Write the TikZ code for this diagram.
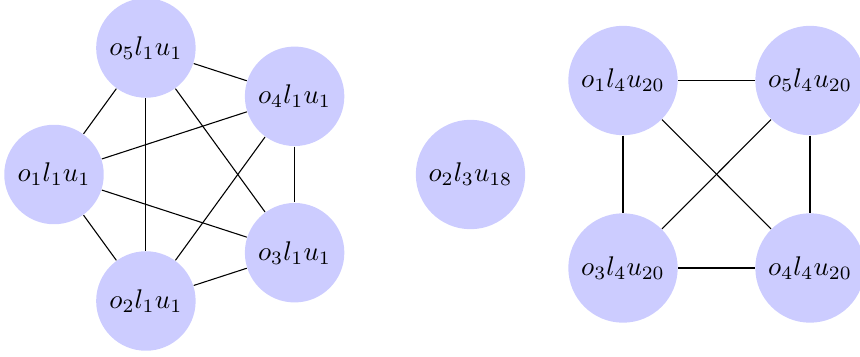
\documentclass[tikz,border=0pt]{standalone}
\begin{document}
\begin{tikzpicture}[x=0.37037pt,y=-0.37037pt,
  vtx/.style={circle,fill=blue!20,inner sep=0.3333em},
  edg/.style={draw=black,line width=0.4pt}]
\useasboundingbox (0,0) rectangle (860,356);
% left K5
\node[vtx] (a1) at (54,174.5) {$o_1l_1u_1$};
\node[vtx] (a5) at (145.9,48) {$o_5l_1u_1$};
\node[vtx] (a4) at (294.6,96.3) {$o_4l_1u_1$};
\node[vtx] (a3) at (294.6,252.7) {$o_3l_1u_1$};
\node[vtx] (a2) at (145.9,301) {$o_2l_1u_1$};
\foreach \p/\q in {a1/a5,a1/a4,a1/a3,a1/a2,a5/a4,a5/a3,a5/a2,a4/a3,a4/a2,a3/a2}
  \draw[edg] (\p) -- (\q);
% middle
\node[vtx] (m) at (470.5,174.5) {$o_2l_3u_{18}$};
% right K4
\node[vtx] (b1) at (623,80.5) {$o_1l_4u_{20}$};
\node[vtx] (b5) at (810,80.5) {$o_5l_4u_{20}$};
\node[vtx] (b3) at (623,268) {$o_3l_4u_{20}$};
\node[vtx] (b4) at (810,268) {$o_4l_4u_{20}$};
\foreach \p/\q in {b1/b5,b1/b3,b1/b4,b5/b3,b5/b4,b3/b4}
  \draw[edg] (\p) -- (\q);
\end{tikzpicture}
\end{document}
